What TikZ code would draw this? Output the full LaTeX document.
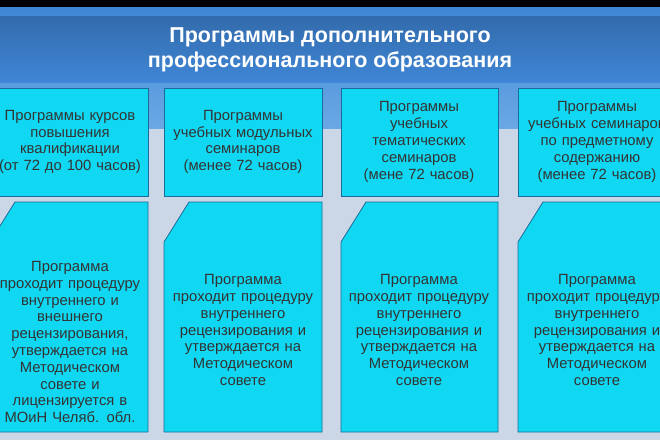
\documentclass[tikz,border=0pt]{standalone}
\usepackage{fontspec}
\setmainfont{Liberation Sans}
\definecolor{boxcyan}{HTML}{10D8F2}
\definecolor{boxedge}{HTML}{1A6A9A}
\definecolor{headtop}{HTML}{3F86D6}
\definecolor{headbot}{HTML}{6AA8E4}
\definecolor{ground}{HTML}{CBD6E6}
\tikzset{
  kind/.style={fill=boxcyan,draw=boxedge,line width=0.8pt},
  kindtext/.style={align=center,text width=160pt,font=\fontsize{14.8}{16.8}\selectfont,text=black!80},
}
\begin{document}
\begin{tikzpicture}[x=1pt,y=-1pt]
    \useasboundingbox (0,0) rectangle (660,440);
    \clip (0,0) rectangle (660,440);
    \begin{scope}

    % background
    \fill[ground] (0,0) rectangle (660,440);
    \shade[top color=headtop,bottom color=headbot] (0,7) rectangle (660,128);
    \shade[top color=headtop!80!black,bottom color=headtop] (0,16) rectangle (660,82);
    \fill[black] (0,0) rectangle (660,7);

    \node[font=\bfseries\fontsize{21.5}{25}\selectfont,text=white,align=center] (title) at (330,50)
      {Программы дополнительного\\профессионального образования};

    % upper boxes
    \draw[kind] (-10,88) rectangle (148,196);
    \draw[kind] (164,88) rectangle (322,196);
    \draw[kind] (341,88) rectangle (498,196);
    \draw[kind] (518,88) rectangle (676,196);

    \node[kindtext] (kurs) at (70,142) {Программы курсов\\повышения\\квалификации\\(от 72 до 100 часов)};
    \node[kindtext] (modul) at (243,142) {Программы\\учебных модульных\\семинаров\\(менее 72 часов)};
    \node[kindtext] (tema) at (419,142) {Программы\\учебных\\тематических\\семинаров\\(мене 72 часов)};
    \node[kindtext] (predm) at (597,142) {Программы\\учебных семинаров\\по предметному\\содержанию\\(менее 72 часов)};

    % lower boxes
    \draw[kind] (15,202) -- (148,202) -- (148,432) -- (-10,432) -- (-10,242) -- cycle;
    \draw[kind] (189,202) -- (322,202) -- (322,432) -- (164,432) -- (164,242) -- cycle;
    \draw[kind] (366,202) -- (498,202) -- (498,432) -- (341,432) -- (341,242) -- cycle;
    \draw[kind] (543,202) -- (676,202) -- (676,432) -- (518,432) -- (518,242) -- cycle;

    \node[kindtext] (kursrev) at (70,342) {Программа\\проходит процедуру\\внутреннего и\\внешнего\\рецензирования,\\утверждается на\\Методическом\\совете и\\лицензируется в\\МОиН Челяб. обл.};
    \node[kindtext] (modulrev) at (243,330) {Программа\\проходит процедуру\\внутреннего\\рецензирования и\\утверждается на\\Методическом\\совете};
    \node[kindtext] (temarev) at (419,330) {Программа\\проходит процедуру\\внутреннего\\рецензирования и\\утверждается на\\Методическом\\совете};
    \node[kindtext] (predmrev) at (597,330) {Программа\\проходит процедуру\\внутреннего\\рецензирования и\\утверждается на\\Методическом\\совете};

    \end{scope}
\end{tikzpicture}
\end{document}
